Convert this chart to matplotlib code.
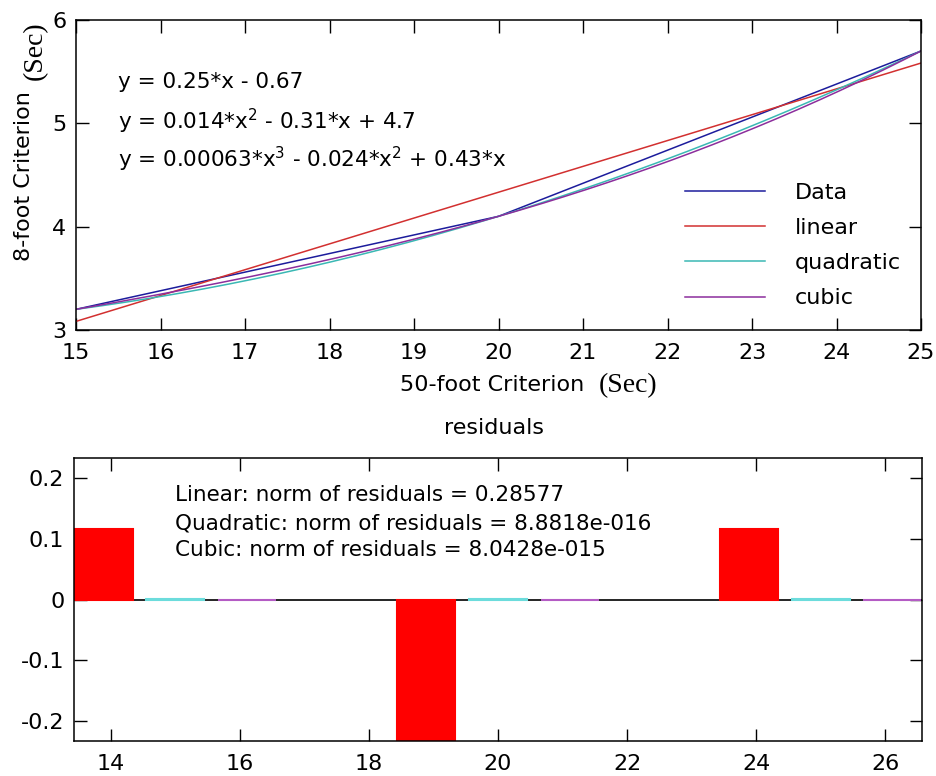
import numpy as np
import matplotlib
matplotlib.use("Agg")
import matplotlib.pyplot as plt

plt.rcParams['font.family'] = ['DejaVu Sans']
plt.rcParams['mathtext.fontset'] = 'custom'
plt.rcParams['mathtext.rm'] = 'DejaVu Sans'
plt.rcParams['mathtext.it'] = 'DejaVu Sans'
plt.rcParams['axes.unicode_minus'] = False

# data
x_data = [15, 20, 25]
y_data = [3.2, 4.1, 5.7]

labels = ["Data", "linear", "quadratic", "cubic"]
eq_text = ["y = 0.25*x - 0.67",
           "y = 0.014*x$^{2}$ - 0.31*x + 4.7",
           "y = 0.00063*x$^{3}$ - 0.024*x$^{2}$ + 0.43*x"]
norm_text = ["Linear: norm of residuals = 0.28577",
             "Quadratic: norm of residuals = 8.8818e-016",
             "Cubic: norm of residuals = 8.0428e-015"]

line_colors = ['#1c1c9c', '#d23030', '#3ab8b4', '#8c2e9c']
bar_colors = ['#ff0000', '#6cdcdc', '#b45cc4']

xd = np.array(x_data, dtype=float)
yd = np.array(y_data, dtype=float)

# fits
p1 = np.polyfit(xd, yd, 1)
p2 = np.polyfit(xd, yd, 2)
# cubic through 3 points (constant term zero, like the basic solution)
A = np.vstack([xd ** 3, xd ** 2, xd]).T
c3 = np.linalg.solve(A, yd)
p3 = np.array([c3[0], c3[1], c3[2], 0.0])

res1 = yd - np.polyval(p1, xd)
res2 = yd - np.polyval(p2, xd)
res3 = yd - np.polyval(p3, xd)

fig = plt.figure(figsize=(9.36, 7.76), dpi=100)
W, H = 936.0, 776.0


def fx(px):
    return px / W


def fy(py):
    return 1 - py / H


ax1 = fig.add_axes([fx(76), fy(330), (921 - 76) / W, (330 - 20) / H])
ax2 = fig.add_axes([fx(74), fy(741), (922 - 74) / W, (741 - 458) / H])

xs = np.linspace(15, 25, 200)
ax1.plot(xd, yd, color=line_colors[0], lw=1.1, label=labels[0])
ax1.plot(xs, np.polyval(p1, xs), color=line_colors[1], lw=1.1, label=labels[1])
ax1.plot(xs, np.polyval(p2, xs), color=line_colors[2], lw=1.1, label=labels[2])
ax1.plot(xs, np.polyval(p3, xs), color=line_colors[3], lw=1.1, label=labels[3])
ax1.set_xlim(15, 25)
ax1.set_ylim(3, 6)
ax1.set_xticks(range(15, 26))
ax1.set_yticks([3, 4, 5, 6])

for t, py in zip(eq_text, [82, 121, 159]):
    fig.text(fx(118), fy(py), t, fontsize=15.5, ha='left', va='center')

leg = ax1.legend(loc='upper left', bbox_to_anchor=((685 - 76) / 845, (330 - 183) / 310),
                 frameon=False, fontsize=16, handlelength=3.6, handletextpad=1.35,
                 labelspacing=0.68, borderpad=0, borderaxespad=0)

# residual bars
offsets = [-1.11, 0.0, 1.11]
ax2.axhline(0, color='black', lw=1.2, zorder=1)
for res, off, col in zip([res1, res2, res3], offsets, bar_colors):
    ax2.bar(xd + off, res, width=0.9, color=col, edgecolor=col, lw=1.5, zorder=2)
ax2.set_xlim(13.43, 26.57)
lim = np.max(np.abs(res1))
ax2.set_ylim(-lim, lim)
ax2.set_xticks(range(14, 27, 2))
ax2.set_yticks([-0.2, -0.1, 0, 0.1, 0.2])
ax2.set_yticklabels(['-0.2', '-0.1', '0', '0.1', '0.2'])

for t, py in zip(norm_text, [495, 523, 550]):
    fig.text(fx(175), fy(py), t, fontsize=15.5, ha='left', va='center')

for ax in (ax1, ax2):
    ax.tick_params(direction='in', length=9, width=1, top=True, right=True,
                   labelsize=16)
    ax.tick_params(axis='x', pad=9)
    ax.tick_params(axis='y', pad=7)
    for s in ax.spines.values():
        s.set_linewidth(1.1)

# axis labels
fig.text(fx(492), fy(385), "50-foot Criterion", fontsize=16, ha='center', va='center')
fig.text(fx(628), fy(386), "(Sec)", fontsize=20, ha='center', va='center',
         family='Liberation Serif')
fig.text(fx(24), fy(176), "8-foot Criterion", fontsize=16, ha='center', va='center',
         rotation=90)
fig.text(fx(35), fy(51), "(Sec)", fontsize=20, ha='center', va='center',
         rotation=90, family='Liberation Serif')
fig.text(fx(494), fy(428), "residuals", fontsize=16, ha='center', va='center')

fig.savefig("out.png", dpi=100)
